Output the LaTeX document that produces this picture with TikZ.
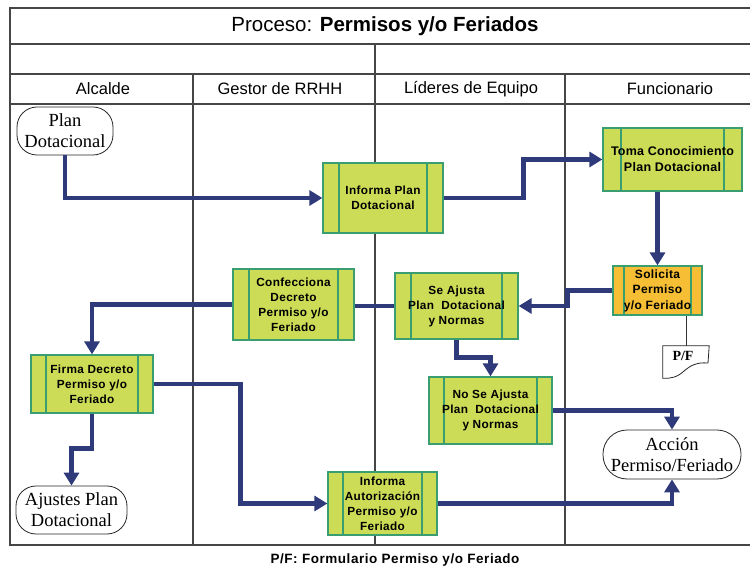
\documentclass[tikz,border=0pt]{standalone}
\usepackage{fontspec}
\setmainfont{Liberation Sans}
\newfontfamily\termfont{Liberation Serif}
\usetikzlibrary{arrows.meta}
\definecolor{procfill}{RGB}{204,220,86}
\definecolor{procborder}{RGB}{58,158,112}
\definecolor{orfill}{RGB}{245,190,52}
\definecolor{flowcol}{RGB}{46,58,122}
\definecolor{lanecol}{RGB}{70,70,70}
\newcommand\boxfont{\bfseries\fontsize{11.8}{15}\selectfont\addfontfeature{LetterSpace=3}}
\tikzset{
  proc/.style={draw=procborder, fill=procfill, line width=1.3pt, inner sep=0pt, align=center, font=\boxfont,
    path picture={\draw[procborder,line width=1.3pt]
      ([xshift=#1]path picture bounding box.north west) -- ([xshift=#1]path picture bounding box.south west)
      ([xshift=-#1]path picture bounding box.north east) -- ([xshift=-#1]path picture bounding box.south east);}},
  term/.style={draw=black!85, line width=0.8pt, rounded corners=20pt, fill=white, inner sep=0pt, align=center,
    font=\termfont\fontsize{18.5}{21}\selectfont},
  flow/.style={draw=flowcol, line width=4.5pt, line join=miter, -{Triangle[length=13pt,width=15pt]}},
  flowplain/.style={draw=flowcol, line width=4.5pt, line join=miter},
  lane/.style={draw=lanecol, line width=1.1pt},
  hdr/.style={font=\fontsize{16.5}{18}\selectfont, inner sep=0pt},
}
\begin{document}
\begin{tikzpicture}[x=1pt,y=-1pt]
\useasboundingbox[fill=white] (0,0) rectangle (750,569);
% frame and lanes
\draw[lane] (750,8) -- (10,8) -- (10,545) -- (750,545);
\draw[lane, line width=2pt] (10,44) -- (750,44);
\draw[lane] (10,74) -- (750,74);
\draw[lane] (10,104) -- (750,104);
\draw[lane] (375,44) -- (375,74);
\draw[lane] (193,74) -- (193,545);
\draw[lane] (375,74) -- (375,545);
\draw[lane] (565,74) -- (565,545);
% title and headers
\node[inner sep=0pt, font=\fontsize{20.5}{24}\selectfont] (title) at (385,26) {Proceso: \textbf{Permisos y/o Feriados}};
\node[hdr] (h1) at (103,89) {Alcalde};
\node[hdr] (h2) at (280,89) {Gestor de RRHH};
\node[hdr] (h3) at (471,89) {Líderes de Equipo};
\node[hdr] (h4) at (670,89) {Funcionario};
% nodes
\node[term, minimum width=96pt, minimum height=48pt] (plan) at (65,131) {Plan\\Dotacional};
\node[proc=16pt, minimum width=120pt, minimum height=70pt] (infp) at (383,198) {Informa Plan\\Dotacional};
\node[proc=18pt, minimum width=139pt, minimum height=63pt, font=\bfseries\fontsize{12.5}{16}\selectfont\addfontfeature{LetterSpace=2}] (toma) at (672.5,159.5) {Toma Conocimiento\\Plan Dotacional};
\node[proc=11pt, fill=orfill, minimum width=89pt, minimum height=49pt, font=\bfseries\fontsize{12}{15.5}\selectfont\addfontfeature{LetterSpace=3}] (sol) at (657.5,290.5) {Solicita\\Permiso\\y/o Feriado};
\node[proc=16pt, minimum width=121pt, minimum height=71pt] (conf) at (293.5,304.5) {Confecciona\\Decreto\\Permiso y/o\\Feriado};
\node[proc=16pt, minimum width=123pt, minimum height=66pt] (seaj) at (456.5,306) {Se Ajusta\\Plan~~Dotacional\\y Normas};
\node[proc=15pt, minimum width=122pt, minimum height=58pt] (firma) at (92,384) {Firma Decreto\\Permiso y/o\\Feriado};
\node[term, minimum width=111pt, minimum height=48pt] (ajus) at (71.5,510) {Ajustes Plan\\Dotacional};
\node[proc=15pt, minimum width=123pt, minimum height=67pt] (nose) at (490.5,410.5) {No Se Ajusta\\Plan~~Dotacional\\y Normas};
\node[term, rounded corners=24pt, minimum width=138pt, minimum height=49pt] (acc) at (672,454.5) {Acción\\Permiso/Feriado};
\node[proc=15pt, minimum width=109pt, minimum height=63pt] (infa) at (382.5,503.5) {Informa\\Autorización\\Permiso y/o\\Feriado};
% document P/F
\node[minimum width=46pt, minimum height=32pt, inner sep=0pt] (pf) at (686,362) {};
\draw[black!85, line width=0.8pt, fill=white] (pf.north west) -- (pf.north east) -- (708,363)
  .. controls (696,362) and (690,366) .. (684,371) .. controls (678,377) and (670,379) .. (pf.south west) -- cycle;
\node[inner sep=0pt, font=\termfont\bfseries\fontsize{14}{16}\selectfont] (pflabel) at (683,356) {P/F};
\draw[black!80, line width=0.8pt] (sol.south -| pf.north) -- (pf.north);
% connectors
\draw[flow] (plan.south) |- (infp.west);
\draw[flow] (infp.east) -- ++(80,0) |- (toma.west);
\draw[flow] (toma.south -| sol.north) -- (sol.north);
\draw[flow] (sol.west) -- ++(-45,0) |- (seaj.east);
\draw[flowplain] (seaj.west) -- (seaj.west -| conf.east);
\draw[flow] (conf.west) -| (firma.north);
\draw[flow] (seaj.south) -- ++(0,18) -| (nose.north);
\draw[flow] (nose.east) -| (acc.north);
\draw[flow] (firma.east) -- ++(87,0) |- (infa.west);
\draw[flow] (infa.east) -| (acc.south);
\draw[flow] (firma.south) -- ++(0,35) -| (ajus.north);
% caption
\node[inner sep=0pt, font=\bfseries\fontsize{13.5}{16}\selectfont\addfontfeature{LetterSpace=4}] (cap) at (395,560) {P/F: Formulario Permiso y/o Feriado};
\end{tikzpicture}
\end{document}
